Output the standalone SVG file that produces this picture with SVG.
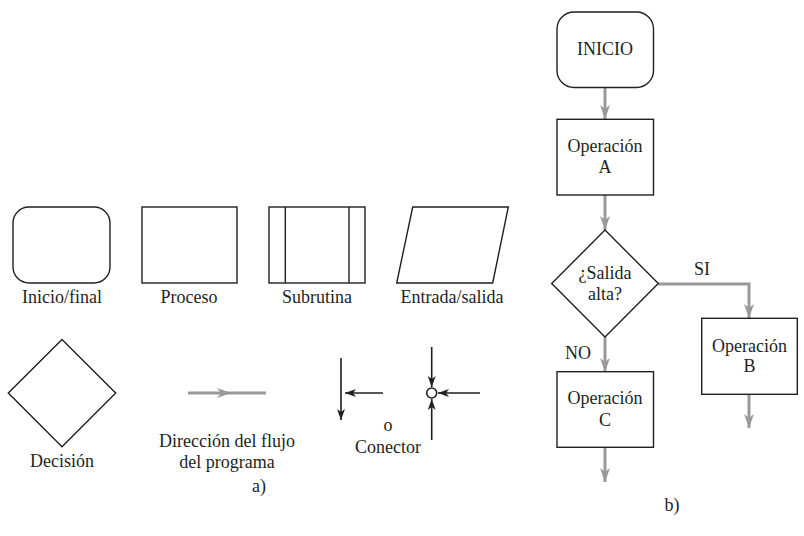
<svg xmlns="http://www.w3.org/2000/svg" width="804" height="536" viewBox="0 0 804 536">
<defs>
<style>
.s{fill:#fff;stroke:#231f20;stroke-width:1.4}
.t{font-family:'Liberation Serif','DejaVu Serif','Times New Roman',serif;font-size:18px;fill:#231f20;text-anchor:middle}
.g{fill:none;stroke:#999;stroke-width:3}
.k{fill:none;stroke:#231f20;stroke-width:1.6}
</style>
<marker id="ga" markerUnits="userSpaceOnUse" markerWidth="16" markerHeight="12" refX="14" refY="5.5" orient="auto" viewBox="0 0 16 12">
<path d="M0,0.5 L14,5.5 L0,10.5 L4,5.5 z" fill="#999"/>
</marker>
<marker id="ka" markerUnits="userSpaceOnUse" markerWidth="12" markerHeight="10" refX="11" refY="4" orient="auto" viewBox="0 0 12 10">
<path d="M0,0 L11,4 L0,8 L3,4 z" fill="#231f20"/>
</marker>
</defs>
<rect width="804" height="536" fill="#fff"/>

<!-- a) legend -->
<g id="leg-inicio"><rect class="s" x="13" y="207" width="97" height="76" rx="16"/><text class="t" x="62" y="303">Inicio/final</text></g>
<g id="leg-proceso"><rect class="s" x="142" y="207" width="95" height="76"/><text class="t" x="189" y="303">Proceso</text></g>
<g id="leg-subrutina"><rect class="s" x="269" y="207" width="96" height="76"/><line class="s" x1="285.3" y1="207" x2="285.3" y2="283"/><line class="s" x1="349" y1="207" x2="349" y2="283"/><text class="t" x="317" y="303">Subrutina</text></g>
<g id="leg-entrada"><polygon class="s" points="412.7,207 508.3,207 492.7,283 396.7,283"/><text class="t" x="452" y="303">Entrada/salida</text></g>
<g id="leg-decision"><polygon class="s" points="62,339.5 115.7,393 62,446.7 8.3,393"/><text class="t" x="62" y="467">Decisión</text></g>
<g id="leg-flujo"><path class="g" d="M188,393 L231,393 L266,393" marker-mid="url(#ga)"/><text class="t" x="227" y="447">Dirección del flujo</text><text class="t" x="227" y="468">del programa</text></g>
<g id="leg-conector">
<line class="k" x1="341" y1="358" x2="341" y2="420" marker-end="url(#ka)"/>
<line class="k" x1="383" y1="393" x2="345" y2="393" marker-end="url(#ka)"/>
<circle cx="431.7" cy="393" r="5" fill="#fff" stroke="#231f20" stroke-width="1.6"/>
<line class="k" x1="431.7" y1="347" x2="431.7" y2="387" marker-end="url(#ka)"/>
<line class="k" x1="431.7" y1="440" x2="431.7" y2="399" marker-end="url(#ka)"/>
<line class="k" x1="480" y1="393" x2="438" y2="393" marker-end="url(#ka)"/>
<text class="t" x="388" y="431">o</text>
<text class="t" x="388" y="453">Conector</text>
</g>
<text class="t" x="259" y="492">a)</text>

<!-- b) flowchart -->
<g id="connectors">
<line class="g" x1="605" y1="87" x2="605" y2="119" marker-end="url(#ga)"/>
<line class="g" x1="605" y1="195" x2="605" y2="230" marker-end="url(#ga)"/>
<polyline class="g" points="658,284 749,284 749,318" marker-end="url(#ga)"/>
<line class="g" x1="605" y1="337" x2="605" y2="372" marker-end="url(#ga)"/>
<line class="g" x1="749" y1="394" x2="749" y2="428" marker-end="url(#ga)"/>
<line class="g" x1="605" y1="447" x2="605" y2="482" marker-end="url(#ga)"/>
<text class="t" x="702" y="275">SI</text>
<text class="t" x="578" y="359">NO</text>
</g>
<g id="inicio"><rect class="s" x="557" y="12" width="96.5" height="75.5" rx="17"/><text class="t" x="605" y="55">INICIO</text></g>
<g id="opA"><rect class="s" x="557" y="119.3" width="96.5" height="75.7"/><text class="t" x="605" y="152">Operación</text><text class="t" x="605" y="173">A</text></g>
<g id="decision"><polygon class="s" points="605,230 658.3,283.5 605,337 551.7,283.5"/><text class="t" x="605" y="279">¿Salida</text><text class="t" x="605" y="300">alta?</text></g>
<g id="opB"><rect class="s" x="701.7" y="318.3" width="95.6" height="76"/><text class="t" x="749.5" y="352">Operación</text><text class="t" x="749.5" y="372">B</text></g>
<g id="opC"><rect class="s" x="557" y="371.7" width="96.5" height="75.6"/><text class="t" x="605" y="403.5">Operación</text><text class="t" x="605" y="426">C</text></g>
<text class="t" x="672" y="511">b)</text>
</svg>
